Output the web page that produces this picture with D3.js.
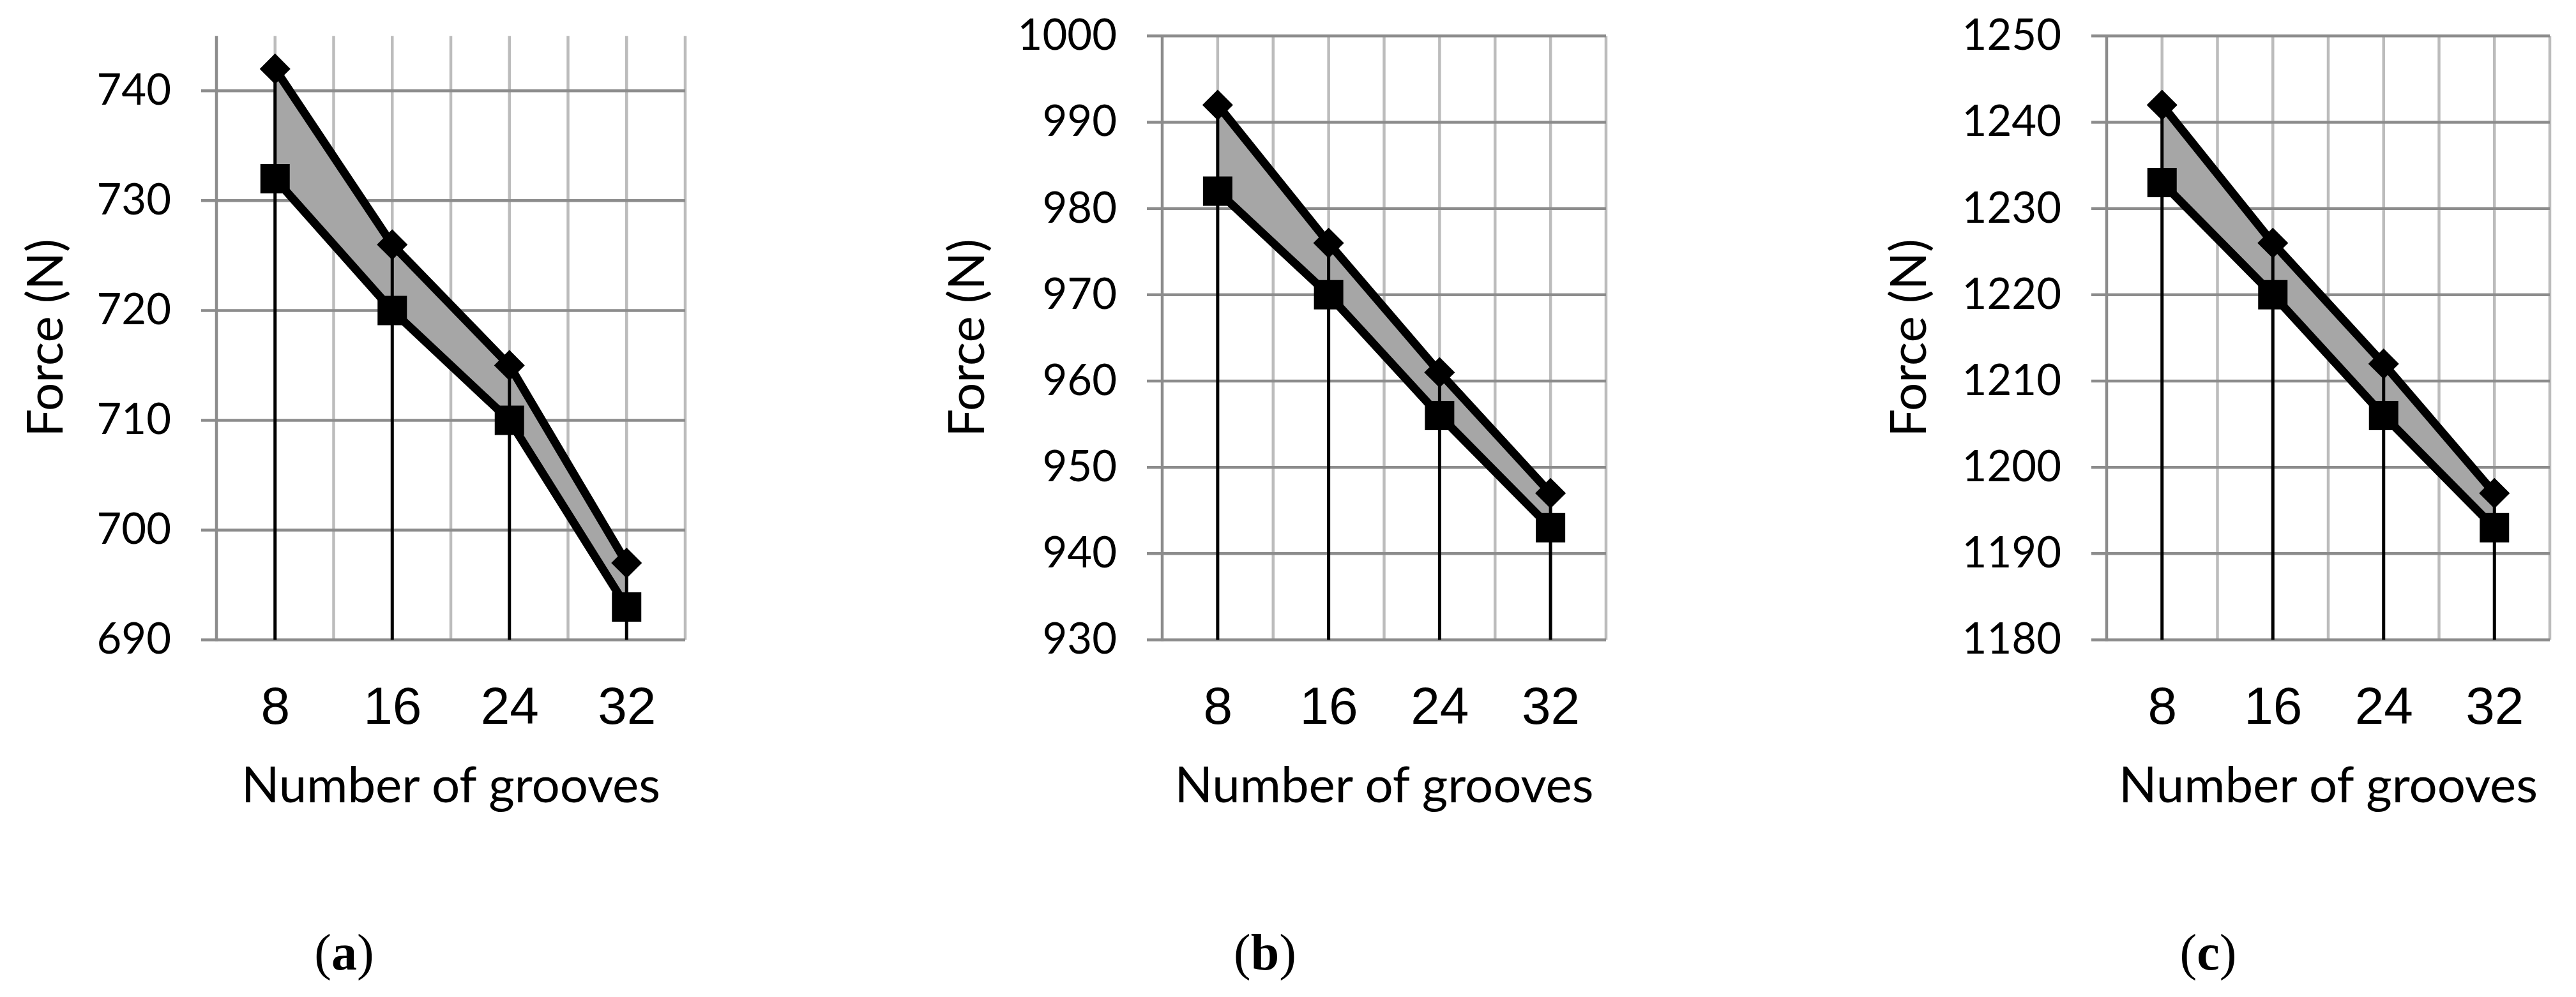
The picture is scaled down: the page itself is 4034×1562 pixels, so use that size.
<!DOCTYPE html>
<html>
<head>
<meta charset="utf-8">
<script src="https://cdn.jsdelivr.net/npm/d3@7"></script>
<style>
  html, body { margin: 0; padding: 0; background: #fff; }
  .ytick text { font-family: Lato, "Open Sans", sans-serif; font-size: 67px; fill: #000; }
  .xtick text { font-family: "Liberation Sans", Arial, sans-serif; font-size: 82px; fill: #000; }
  .axis-title { font-family: Lato, "Open Sans", sans-serif; font-size: 78px; fill: #000; }
  .caption { font-family: "Liberation Serif", "Times New Roman", serif; font-size: 80px; fill: #000; }
</style>
</head>
<body>
<div id="chart"></div>
<script>
'use strict';

// data
var grooves = [8, 16, 24, 32];

var upperA = [742, 726, 715, 697];
var lowerA = [732, 720, 710, 693];
var upperB = [992, 976, 961, 947];
var lowerB = [982, 970, 956, 943];
var upperC = [1242, 1226, 1212, 1197];
var lowerC = [1233, 1220, 1206, 1193];

var ticksA = [690, 700, 710, 720, 730, 740];
var ticksB = [930, 940, 950, 960, 970, 980, 990, 1000];
var ticksC = [1180, 1190, 1200, 1210, 1220, 1230, 1240, 1250];

var domainA = [690, 745];
var domainB = [930, 1000];
var domainC = [1180, 1250];

var captions = ['a', 'b', 'c'];

var xTitle = 'Number of grooves';
var yTitle = 'Force (N)';

var svgWidth = 4034, svgHeight = 1562;

var svg = d3.select('#chart')
    .append('svg')
    .attr('width', svgWidth)
    .attr('height', svgHeight);

var panels = [
    {upper: upperA, lower: lowerA, ticks: ticksA, domain: domainA, caption: captions[0],
     left: 339, right: 1073, titleX: 98, captionX: 539},
    {upper: upperB, lower: lowerB, ticks: ticksB, domain: domainB, caption: captions[1],
     left: 1820, right: 2515, titleX: 1541, captionX: 1981},
    {upper: upperC, lower: lowerC, ticks: ticksC, domain: domainC, caption: captions[2],
     left: 3299, right: 3993, titleX: 3016, captionX: 3458}
];

var plotTop = 56.3, plotBottom = 1002.5;

panels.forEach(function(p) { PlotPanel(p); });

function PlotPanel(p) {
    var x = d3.scalePoint()
        .domain(grooves)
        .range([p.left, p.right])
        .padding(0.5);

    var y = d3.scaleLinear()
        .domain(p.domain)
        .range([plotBottom, plotTop]);

    var g = svg.append('g');
    var half = x.step() / 2;

    // light vertical grid, at categories and between them
    var vx = d3.range(1, 2 * grooves.length + 1).map(function(i) { return p.left + i * half; });
    g.selectAll('.vgrid')
        .data(vx)
        .enter().append('line')
        .attr('x1', function(d) { return d; })
        .attr('x2', function(d) { return d; })
        .attr('y1', plotTop)
        .attr('y2', plotBottom)
        .style('stroke', '#bcbcbc')
        .style('stroke-width', 4.5);

    // dark horizontal grid with outside tick
    g.selectAll('.hgrid')
        .data(p.ticks)
        .enter().append('line')
        .attr('x1', p.left - 24)
        .attr('x2', p.right)
        .attr('y1', function(d) { return y(d); })
        .attr('y2', function(d) { return y(d); })
        .style('stroke', '#8c8c8c')
        .style('stroke-width', 4.5);

    g.append('line')
        .attr('x1', p.left).attr('x2', p.left)
        .attr('y1', plotTop).attr('y2', plotBottom + 2)
        .style('stroke', '#8c8c8c')
        .style('stroke-width', 4.5);

    // band between the two series
    var area = d3.area()
        .x(function(d, i) { return x(grooves[i]); })
        .y0(function(d, i) { return y(p.lower[i]); })
        .y1(function(d) { return y(d); });

    g.append('path')
        .datum(p.upper)
        .attr('d', area)
        .style('fill', '#a6a6a6');

    // drop lines
    g.selectAll('.drop')
        .data(p.upper)
        .enter().append('line')
        .attr('x1', function(d, i) { return x(grooves[i]); })
        .attr('x2', function(d, i) { return x(grooves[i]); })
        .attr('y1', function(d) { return y(d); })
        .attr('y2', plotBottom)
        .style('stroke', '#000')
        .style('stroke-width', 5);

    var line = d3.line()
        .x(function(d, i) { return x(grooves[i]); })
        .y(function(d) { return y(d); });

    [p.upper, p.lower].forEach(function(s) {
        g.append('path')
            .datum(s)
            .attr('d', line)
            .style('fill', 'none')
            .style('stroke', '#000')
            .style('stroke-width', 13)
            .style('stroke-linejoin', 'round');
    });

    var square = d3.symbol().type(d3.symbolSquare).size(46 * 46);
    var diamond = d3.symbol().type(d3.symbolSquare).size(34 * 34);

    g.selectAll('.sq')
        .data(p.lower)
        .enter().append('path')
        .attr('d', square)
        .attr('transform', function(d, i) { return 'translate(' + [x(grooves[i]), y(d)] + ')'; })
        .style('fill', '#000');

    g.selectAll('.dia')
        .data(p.upper)
        .enter().append('path')
        .attr('d', diamond)
        .attr('transform', function(d, i) { return 'translate(' + [x(grooves[i]), y(d)] + ') rotate(45)'; })
        .style('fill', '#000');

    // tick labels
    var yAxis = d3.axisLeft(y)
        .tickValues(p.ticks)
        .tickFormat(d3.format('d'))
        .tickSize(0)
        .tickPadding(71);
    var ya = g.append('g')
        .attr('class', 'ytick')
        .attr('transform', 'translate(' + p.left + ',0)')
        .call(yAxis);
    ya.select('.domain').remove();
    ya.selectAll('text').attr('font-family', null).attr('font-size', null);

    var xAxis = d3.axisBottom(x).tickSize(0).tickPadding(73);
    var xa = g.append('g')
        .attr('class', 'xtick')
        .attr('transform', 'translate(0,' + plotBottom + ')')
        .call(xAxis);
    xa.select('.domain').remove();
    xa.selectAll('text').attr('font-family', null).attr('font-size', null);

    // axis titles
    g.append('text')
        .attr('class', 'axis-title')
        .attr('x', (p.left + p.right) / 2)
        .attr('y', 1257)
        .style('text-anchor', 'middle')
        .text(xTitle);

    g.append('text')
        .attr('class', 'axis-title')
        .attr('transform', 'translate(' + [p.titleX, (plotTop + plotBottom) / 2] + ') rotate(-90)')
        .style('text-anchor', 'middle')
        .text(yTitle);

    // panel caption
    var cap = g.append('text')
        .attr('class', 'caption')
        .attr('x', p.captionX)
        .attr('y', 1519)
        .style('text-anchor', 'middle');
    cap.append('tspan').text('(');
    cap.append('tspan').style('font-weight', 'bold').text(p.caption);
    cap.append('tspan').text(')');
}
</script>
</body>
</html>
